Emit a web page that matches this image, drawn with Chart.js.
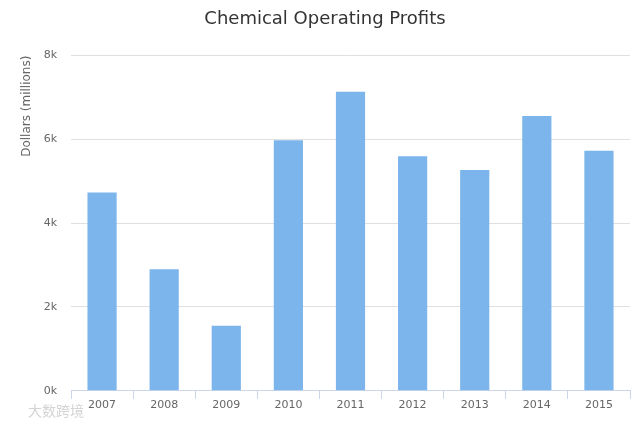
<!DOCTYPE html>
<html>
<head>
<meta charset="utf-8">
<script src="https://cdn.jsdelivr.net/npm/chart.js@4"></script>
<style>
    html, body { margin: 0; padding: 0; background: #fff; }
    #wrap { width: 640px; height: 427px; }
</style>
</head>
<body>
<div id="wrap"><canvas id="profitChart"></canvas></div>
<script>
// Chart data
const years = ['2007', '2008', '2009', '2010', '2011', '2012', '2013', '2014', '2015'];
const profits = [4730, 2900, 1550, 5980, 7140, 5600, 5270, 6560, 5730];
const yTicks = [0, 2000, 4000, 6000, 8000];

const fontFamily = '"DejaVu Sans", Verdana, sans-serif';

// Faint watermark in the lower left corner
const watermark = {
    id: 'watermark',
    afterDraw(chart) {
        const ctx = chart.ctx;
        ctx.save();
        ctx.fillStyle = '#d4d4d4';
        ctx.font = '14px "Noto Sans CJK SC"';
        ctx.textBaseline = 'middle';
        ctx.fillText('大数跨境', 28, 411);
        ctx.restore();
    }
};

document.addEventListener('DOMContentLoaded', function() {
    const ctx = document.getElementById('profitChart').getContext('2d');
    new Chart(ctx, {
        type: 'bar',
        data: {
            labels: years,
            datasets: [{
                label: 'Operating Profits',
                data: profits,
                backgroundColor: '#7cb5ec',
                categoryPercentage: 1,
                barPercentage: 0.47
            }]
        },
        options: {
            responsive: true,
            maintainAspectRatio: false,
            animation: false,
            layout: { padding: { left: 20, right: 10, top: 0, bottom: 15 } },
            plugins: {
                legend: { display: false },
                tooltip: { enabled: false },
                title: {
                    display: true,
                    text: 'Chemical Operating Profits',
                    color: '#333333',
                    font: { family: fontFamily, size: 18, weight: 'normal' },
                    padding: { top: 9, bottom: 25 }
                }
            },
            scales: {
                x: {
                    offset: true,
                    border: { display: true, color: '#ccd6eb' },
                    grid: {
                        offset: true,
                        drawOnChartArea: false,
                        drawTicks: true,
                        tickLength: 8,
                        color: '#ccd6eb'
                    },
                    ticks: {
                        color: '#666666',
                        padding: 0,
                        font: { family: fontFamily, size: 11 }
                    }
                },
                y: {
                    min: 0,
                    max: 8000,
                    afterFit(scale) { scale.width = 51; },
                    afterBuildTicks(scale) {
                        scale.ticks = yTicks.map(v => ({ value: v }));
                    },
                    border: { display: false },
                    grid: { color: '#e0e0e0', drawTicks: false },
                    ticks: {
                        color: '#666666',
                        padding: 14,
                        font: { family: fontFamily, size: 11 },
                        callback: v => (v / 1000) + 'k'
                    },
                    title: {
                        display: true,
                        text: 'Dollars (millions)',
                        align: 'end',
                        color: '#666666',
                        font: { family: fontFamily, size: 12 },
                        padding: { top: 0, bottom: 0 }
                    }
                }
            }
        },
        plugins: [watermark]
    });
});
</script>
</body>
</html>
